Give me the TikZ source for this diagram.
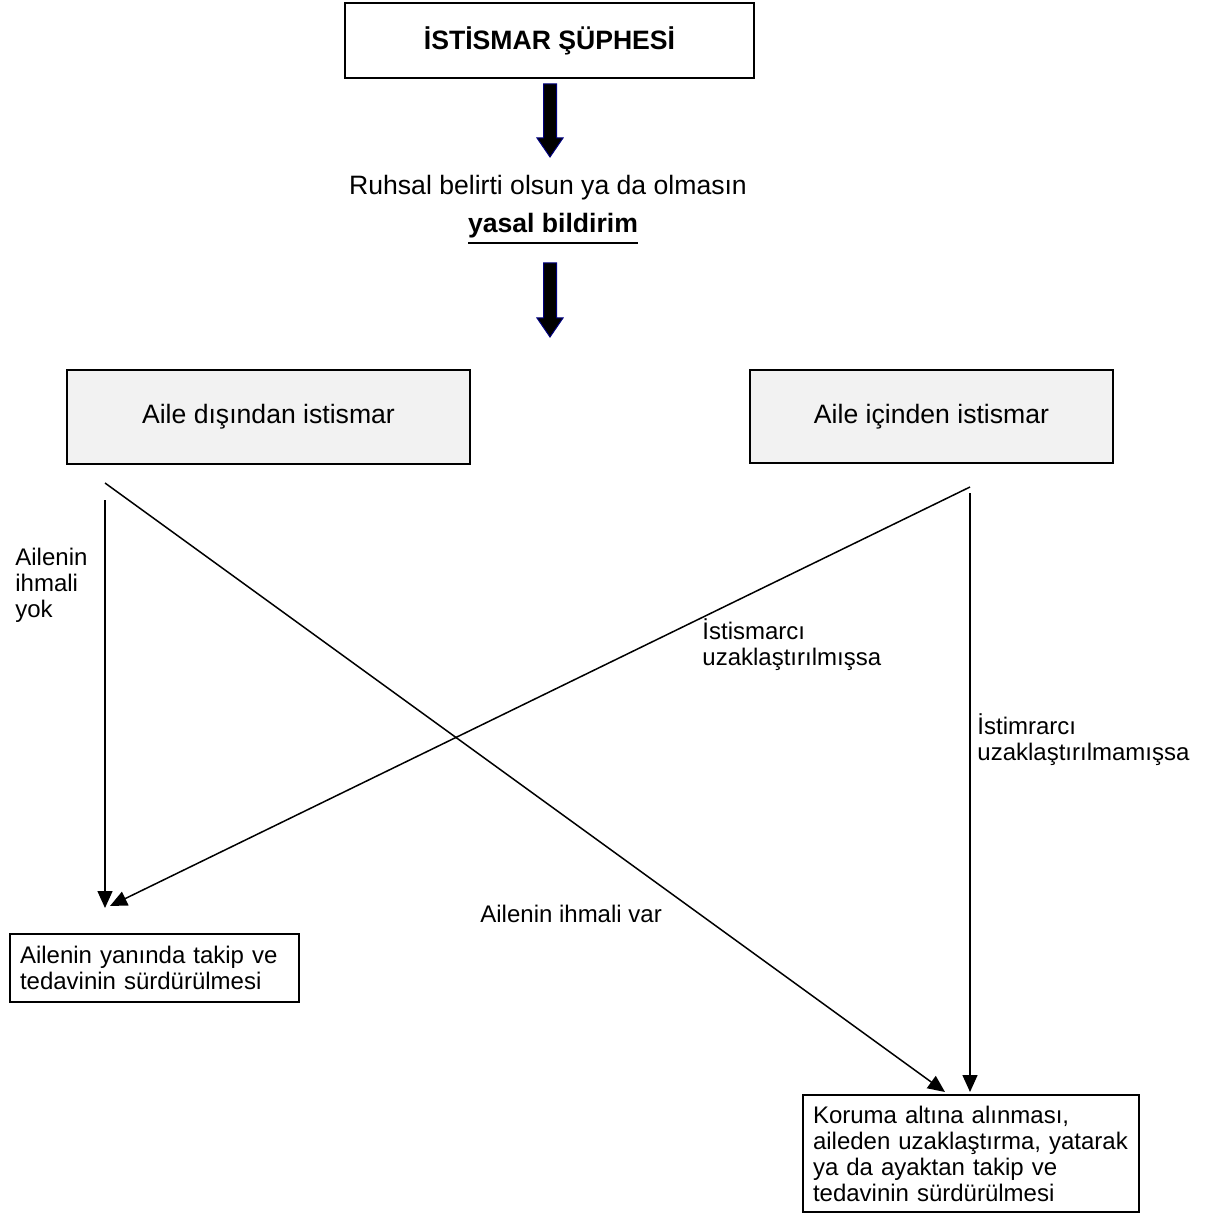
\documentclass[tikz,border=0pt]{standalone}
\usepackage{fontspec}
\setmainfont{Liberation Sans}
\usetikzlibrary{arrows.meta}
\definecolor{kutugri}{RGB}{242,242,242}
\definecolor{oklacivert}{RGB}{0,0,128}
\newcommand{\buyuk}{\fontsize{13.3}{15}\selectfont}
\newcommand{\kucuk}{\fontsize{12}{13}\selectfont}
\newcommand{\altcizgi}[1]{\setbox0\hbox{#1}\rlap{\vrule height -4.5pt depth 5.5pt width \wd0}\box0}

\begin{document}
\begin{tikzpicture}[x=0.5pt,y=-0.5pt,
  kutu/.style={draw,line width=1pt,inner sep=0pt,font=\buyuk},
  sonuc/.style={draw,line width=1pt,inner xsep=5pt,inner ysep=0pt,align=left,font=\kucuk},
  etiket/.style={anchor=base west,align=left,inner sep=0pt,font=\kucuk},
  ok/.style={line width=0.75pt,-{Triangle[length=8.5pt,width=7.5pt]}},
  kalinok/.style={fill=black,draw=oklacivert,line width=0.5pt}]
\useasboundingbox (0,0) rectangle (1208,1213);

% Top
\node[kutu,minimum width=204.5pt,minimum height=37.5pt,font=\buyuk\bfseries] (suphe) at (549.5,40.5) {İSTİSMAR ŞÜPHESİ};
\node[anchor=base,font=\buyuk,inner sep=0pt] (ruhsal) at (548,195) {Ruhsal belirti olsun ya da olmasın};
\node[anchor=base,font=\buyuk\bfseries,inner sep=0pt] (yasal) at (553,233) {\altcizgi{yasal bildirim}};

% Block arrows
\foreach \ust/\uc in {84/157, 263/337} {
    \draw[kalinok] (543.5,\ust) -- (556.5,\ust) -- (556.5,\uc-19) -- (563,\uc-19)
        -- (550,\uc) -- (537,\uc-19) -- (543.5,\uc-19) -- cycle;
}

% Two cases
\node[kutu,fill=kutugri,minimum width=201.5pt,minimum height=47pt] (disi) at (268.5,417) {Aile dışından istismar};
\node[kutu,fill=kutugri,minimum width=181.5pt,minimum height=46.5pt] (ici) at (931.5,416.5) {Aile içinden istismar};

% Outcomes
\node[sonuc,text width=134.5pt,minimum height=34pt,anchor=north west] (yaninda) at (9,933)
    {Ailenin yanında takip ve\\tedavinin sürdürülmesi};
\node[sonuc,text width=158pt,minimum height=58.5pt,anchor=north west] (koruma) at (802,1094)
    {Koruma altına alınması,\\aileden uzaklaştırma, yatarak\\ya da ayaktan takip ve\\tedavinin sürdürülmesi};

% Connectors
\coordinate (disi-dik) at (105,500);
\coordinate (disi-capraz) at (105,483);
\coordinate (ici-capraz) at (970,487);
\coordinate (ici-dik) at (970,493);
\coordinate (sol-uc) at (105,908);
\coordinate (sol-uc2) at (110,906);
\coordinate (sag-uc) at (945,1092);
\coordinate (sag-uc2) at (970,1092);

\draw[ok] (disi-dik) -- (sol-uc);
\draw[ok] (disi-capraz) -- (sag-uc);
\draw[ok] (ici-capraz) -- (sol-uc2);
\draw[ok] (ici-dik) -- (sag-uc2);

% Labels
\node[etiket] (yok) at (15,617) {Ailenin\\ihmali\\yok};
\node[etiket] (uzak) at (702,665) {İstismarcı\\uzaklaştırılmışsa};
\node[etiket] (uzakdegil) at (977,760) {İstimrarcı\\uzaklaştırılmamışsa};
\node[etiket] (var) at (480,922) {Ailenin ihmali var};
\end{tikzpicture}
\end{document}
